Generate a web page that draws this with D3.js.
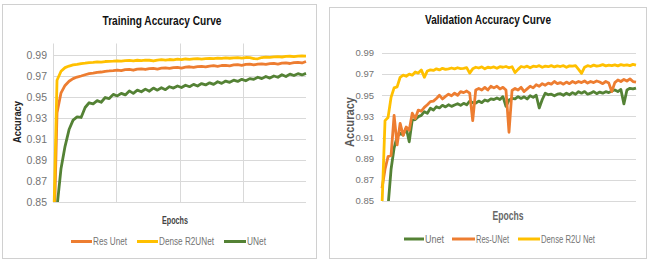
<!DOCTYPE html>
<html>
<head>
<meta charset="utf-8">
<script src="https://cdn.jsdelivr.net/npm/d3@7"></script>
<style>
  body { margin: 0; background: #fff; }
  text { font-family: "Liberation Sans", Arial, sans-serif; }
</style>
</head>
<body>
<svg id="chart" width="648" height="262"></svg>
<script>
// accuracy ticks shared by both charts
var yTicks = [0.85, 0.87, 0.89, 0.91, 0.93, 0.95, 0.97, 0.99];

// Training chart, one value per sampled epoch
var trainNames = ["Res Unet", "Dense R2UNet", "UNet"];
var trainRes = [0.78,0.935,0.954,0.961,0.965,0.9675,0.969,0.970,0.9712,0.9722,
  0.9728,0.9735,0.9738,0.9745,0.9748,0.9752,0.9757,0.9752,0.976,0.9762,
  0.9755,0.9765,0.9768,0.9762,0.977,0.9772,0.9765,0.9775,0.9778,0.9772,
  0.978,0.9782,0.9775,0.9785,0.9788,0.9782,0.979,0.9792,0.9786,0.9795,
  0.9798,0.9792,0.98,0.9802,0.9797,0.9805,0.9808,0.9802,0.981,0.9812,
  0.9806,0.9814,0.9816,0.981,0.9818,0.982,0.9814,0.9822,0.9825,0.9819,
  0.9828,0.983,0.9824,0.9838];
var trainDense = [0.80,0.966,0.9745,0.978,0.9795,0.9805,0.981,0.9818,0.9822,0.9828,
  0.983,0.9835,0.9832,0.9838,0.984,0.9842,0.9845,0.9841,0.9846,0.9848,
  0.9844,0.985,0.9847,0.9852,0.985,0.9843,0.9852,0.9855,0.9851,0.9857,
  0.9854,0.986,0.9856,0.9862,0.9859,0.9863,0.9865,0.9861,0.9866,0.9868,
  0.9865,0.987,0.9867,0.9872,0.9869,0.9873,0.9875,0.9871,0.9876,0.9875,
  0.9866,0.9864,0.9876,0.988,0.9877,0.9882,0.9884,0.9881,0.9886,0.9888,
  0.9885,0.989,0.9892,0.989];
var trainU = [0.70,0.845,0.882,0.903,0.919,0.928,0.931,0.9305,0.940,0.9445,
  0.9435,0.9465,0.945,0.9495,0.9485,0.9525,0.951,0.9535,0.952,0.9558,
  0.9535,0.9565,0.955,0.9575,0.9555,0.9585,0.9565,0.9588,0.957,0.9598,
  0.9585,0.9605,0.959,0.9612,0.9598,0.962,0.9605,0.9628,0.9615,0.9635,
  0.962,0.9645,0.963,0.9652,0.964,0.966,0.9648,0.9668,0.9655,0.9675,
  0.9668,0.9688,0.9675,0.9695,0.968,0.970,0.9688,0.9712,0.9695,0.9718,
  0.9705,0.9722,0.971,0.9725];

// Validation chart
var valNames = ["Unet", "Res-UNet", "Dense R2U Net"];
var valU = [0.70,0.78,0.845,0.880,0.900,0.911,0.914,0.9125,0.919,0.906,
  0.9265,0.927,0.9298,0.931,0.9345,0.933,0.9377,0.936,0.9392,0.938,
  0.9405,0.939,0.941,0.9395,0.9408,0.942,0.9405,0.9424,0.941,0.9445,
  0.943,0.9425,0.9445,0.943,0.9455,0.9445,0.9465,0.946,0.9475,0.946,
  0.9487,0.9395,0.9455,0.947,0.9465,0.9487,0.947,0.9485,0.9465,0.9495,
  0.948,0.950,0.938,0.946,0.952,0.9505,0.951,0.9495,0.951,0.9515,
  0.950,0.952,0.9505,0.9525,0.951,0.9534,0.952,0.9535,0.951,0.952,
  0.9535,0.9515,0.953,0.952,0.9534,0.9525,0.954,0.955,0.9535,0.9555,
  0.9418,0.955,0.9566,0.956,0.9568];
var valRes = [0.862,0.880,0.892,0.893,0.931,0.903,0.9235,0.912,0.920,0.917,
  0.933,0.928,0.936,0.935,0.9385,0.941,0.944,0.9445,0.947,0.950,
  0.9465,0.949,0.951,0.9495,0.952,0.950,0.9534,0.9525,0.954,0.952,
  0.926,0.955,0.9565,0.955,0.9575,0.955,0.9585,0.957,0.9585,0.956,
  0.9575,0.955,0.915,0.9545,0.9565,0.955,0.9575,0.9535,0.956,0.9585,
  0.957,0.960,0.9585,0.961,0.9595,0.9615,0.9605,0.963,0.961,0.962,
  0.9605,0.9625,0.961,0.963,0.9615,0.963,0.962,0.9635,0.9615,0.963,
  0.962,0.9635,0.9625,0.961,0.963,0.9615,0.9535,0.962,0.9645,0.963,
  0.965,0.9635,0.9655,0.963,0.9625];
var valDense = [0.845,0.926,0.929,0.948,0.957,0.958,0.967,0.969,0.968,0.970,
  0.969,0.972,0.971,0.974,0.967,0.973,0.974,0.9735,0.975,0.974,
  0.9755,0.9745,0.975,0.9758,0.975,0.976,0.9752,0.9755,0.9762,0.971,
  0.975,0.9765,0.9758,0.9768,0.975,0.9765,0.976,0.9768,0.9755,0.977,
  0.9765,0.9772,0.976,0.977,0.9715,0.9745,0.9772,0.9765,0.9775,0.976,
  0.9775,0.977,0.978,0.9765,0.9775,0.977,0.978,0.9768,0.9778,0.9772,
  0.978,0.9765,0.9778,0.9775,0.978,0.9745,0.9708,0.9765,0.978,0.9772,
  0.9785,0.9775,0.978,0.979,0.9778,0.9785,0.978,0.9788,0.9778,0.979,
  0.9782,0.9788,0.978,0.9792,0.9785];

var ORANGE = "#ed7d31", GOLD = "#ffc000", GREEN = "#548235";

var svg = d3.select("#chart");
svg.append("defs");

function drawPanel(cfg) {
  var g = svg.append("g");

  // panel frame
  g.append("rect")
    .attr("x", cfg.box[0] + 0.5).attr("y", cfg.box[1] + 0.5)
    .attr("width", cfg.box[2]).attr("height", cfg.box[3])
    .attr("fill", "#fff").attr("stroke", "#d0d0d0");

  var n = cfg.series[0].values.length;
  var x = d3.scaleLinear().domain([0, n - 1]).range([cfg.left, cfg.right]);
  var y = d3.scaleLinear().domain([0.85, 1.0]).range([cfg.bottom, cfg.top]);

  // horizontal gridlines
  g.selectAll(".hgrid").data(yTicks).enter().append("line")
    .attr("x1", cfg.left).attr("x2", cfg.right)
    .attr("y1", d => Math.round(y(d)) + 0.5).attr("y2", d => Math.round(y(d)) + 0.5)
    .attr("stroke", "#d9d9d9").attr("stroke-width", 1);

  // vertical gridlines (training chart only)
  if (cfg.vgrid) {
    var vg = [0, 0.25, 0.5, 0.75].map(f => f * (n - 1));
    g.selectAll(".vgrid").data(vg).enter().append("line")
      .attr("x1", d => Math.round(x(d)) + 0.5).attr("x2", d => Math.round(x(d)) + 0.5)
      .attr("y1", cfg.top - 1).attr("y2", cfg.bottom)
      .attr("stroke", "#d9d9d9").attr("stroke-width", 1);
  }

  // y tick labels
  g.selectAll(".ytick").data(yTicks).enter().append("text")
    .attr("x", cfg.tickX).attr("y", d => y(d))
    .attr("dy", "0.35em").attr("text-anchor", "end")
    .attr("font-size", cfg.tickSize).attr("fill", "#737373")
    .text(d => d3.format(".2f")(d));

  // clip lines to plot area
  svg.select("defs").append("clipPath").attr("id", cfg.id)
    .append("rect")
    .attr("x", cfg.left - 2).attr("y", cfg.top - 2)
    .attr("width", cfg.right - cfg.left + 4).attr("height", cfg.bottom - cfg.top + 2);

  var line = d3.line().x((d, i) => x(i)).y(d => y(d));
  var lines = g.append("g").attr("clip-path", "url(#" + cfg.id + ")");
  cfg.series.forEach(function (s) {
    lines.append("path")
      .attr("d", line(s.values))
      .attr("fill", "none").attr("stroke", s.color)
      .attr("stroke-width", 2.8).attr("stroke-linejoin", "round");
  });

  // titles
  g.append("text")
    .attr("x", cfg.title.x).attr("y", cfg.title.y)
    .attr("text-anchor", "middle").attr("font-size", 13.5).attr("font-weight", "bold")
    .attr("fill", "#111")
    .attr("textLength", cfg.title.len).attr("lengthAdjust", "spacingAndGlyphs")
    .text(cfg.title.text);

  g.append("text")
    .attr("transform", "translate(" + cfg.ylab.x + "," + cfg.ylab.y + ") rotate(-90)")
    .attr("text-anchor", "middle").attr("font-size", cfg.ylab.size).attr("font-weight", "bold")
    .attr("fill", cfg.ylab.color)
    .attr("textLength", cfg.ylab.len).attr("lengthAdjust", "spacingAndGlyphs")
    .text("Accuracy");

  g.append("text")
    .attr("x", cfg.xlab.x).attr("y", cfg.xlab.y)
    .attr("text-anchor", "middle").attr("font-size", cfg.xlab.size).attr("font-weight", "bold")
    .attr("fill", cfg.xlab.color)
    .attr("textLength", cfg.xlab.len).attr("lengthAdjust", "spacingAndGlyphs")
    .text("Epochs");

  // legend
  cfg.legend.forEach(function (it) {
    var s = cfg.series[it.s];
    g.append("line")
      .attr("x1", it.x0).attr("x2", it.x1)
      .attr("y1", cfg.legendY).attr("y2", cfg.legendY)
      .attr("stroke", s.color).attr("stroke-width", 3);
    g.append("text")
      .attr("x", it.x1 + 1).attr("y", cfg.legendY + 3.5)
      .attr("font-size", 10).attr("fill", "#737373")
      .attr("textLength", it.len).attr("lengthAdjust", "spacingAndGlyphs")
      .text(s.name);
  });
}

drawPanel({
  id: "clipTrain",
  box: [2, 4, 314, 254],
  left: 53, right: 306, top: 44.5, bottom: 202,
  vgrid: true,
  tickX: 47, tickSize: 10.5,
  title: { text: "Training Accuracy Curve", x: 162, y: 24.5, len: 119 },
  ylab: { x: 21, y: 122, len: 42, size: 10, color: "#222" },
  xlab: { x: 175, y: 223.5, len: 26, size: 10, color: "#444" },
  legendY: 241.5,
  series: [
    { name: trainNames[0], values: trainRes, color: ORANGE },
    { name: trainNames[1], values: trainDense, color: GOLD },
    { name: trainNames[2], values: trainU, color: GREEN }
  ],
  legend: [
    { s: 0, x0: 71, x1: 92, len: 34 },
    { s: 1, x0: 137, x1: 158, len: 55 },
    { s: 2, x0: 224, x1: 246, len: 19 }
  ]
});

drawPanel({
  id: "clipVal",
  box: [329, 7, 317, 251],
  left: 382, right: 636, top: 42.4, bottom: 201,
  vgrid: false,
  tickX: 374, tickSize: 9.5,
  title: { text: "Validation Accuracy Curve", x: 488, y: 24, len: 126 },
  ylab: { x: 354, y: 122, len: 50, size: 12, color: "#595959" },
  xlab: { x: 508, y: 219.5, len: 31, size: 12.5, color: "#666" },
  legendY: 239,
  series: [
    { name: valNames[0], values: valU, color: GREEN },
    { name: valNames[1], values: valRes, color: ORANGE },
    { name: valNames[2], values: valDense, color: GOLD }
  ],
  legend: [
    { s: 0, x0: 404, x1: 424, len: 19 },
    { s: 1, x0: 452, x1: 475, len: 33 },
    { s: 2, x0: 518, x1: 540, len: 54 }
  ]
});
</script>
</body>
</html>
